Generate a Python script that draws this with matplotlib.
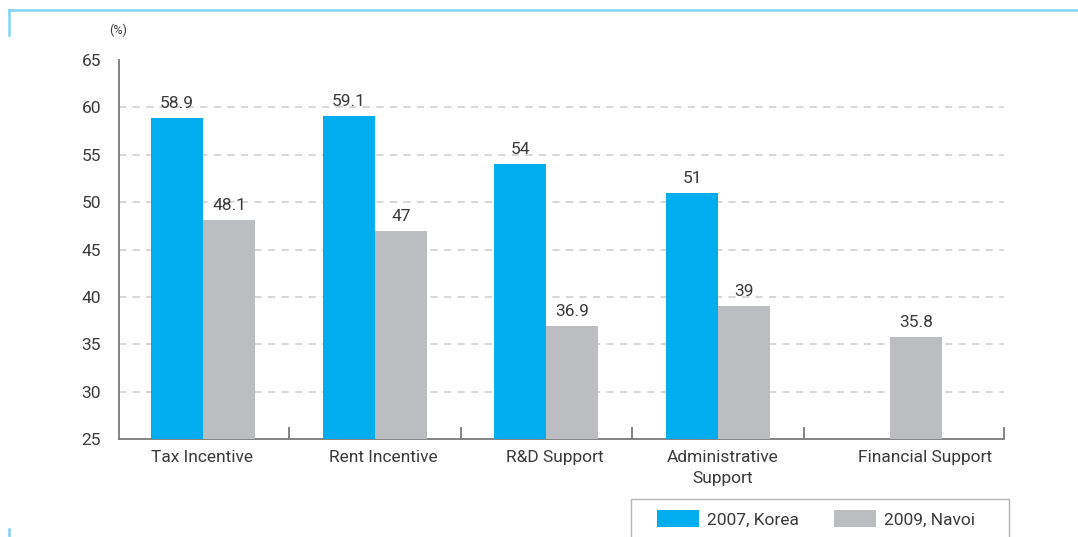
import matplotlib
matplotlib.use("Agg")
import matplotlib.pyplot as plt
from matplotlib.patches import Patch, Rectangle
from matplotlib.lines import Line2D
from matplotlib.transforms import ScaledTranslation
import numpy as np

categories = ["Tax Incentive", "Rent Incentive", "R&D Support",
              "Administrative\nSupport", "Financial Support"]
korea_2007 = [58.9, 59.1, 54, 51, None]
navoi_2009 = [48.1, 47, 36.9, 39, 35.8]
series_labels = ["2007, Korea", "2009, Navoi"]
y_ticks = [25, 30, 35, 40, 45, 50, 55, 60, 65]

BLUE = "#00AEEF"
GRAY = "#BCBDC0"
TEXT = "#3a3a3a"
AXIS = "#7a7a7a"
DECOR = "#7fd4f7"
FS = 12.5

plt.rcParams["font.family"] = ["Roboto", "DejaVu Sans"]

W, H = 1078, 537
fig = plt.figure(figsize=(W / 100, H / 100), dpi=100)
ax = fig.add_axes([119 / W, 1 - 439 / H, (1004 - 119) / W, (439 - 60) / H])

x = np.arange(len(categories))
bw = 0.303

for i, v in enumerate(korea_2007):
    if v is None:
        continue
    ax.bar(x[i] - bw / 2, v - 25, bottom=25, width=bw, color=BLUE, zorder=3)
    ax.annotate(f"{v:g}", (x[i] - bw / 2, v), xytext=(0, 5), textcoords="offset points",
                ha="center", va="bottom", fontsize=FS, color=TEXT)
for i, v in enumerate(navoi_2009):
    ax.bar(x[i] + bw / 2, v - 25, bottom=25, width=bw, color=GRAY, zorder=3)
    ax.annotate(f"{v:g}", (x[i] + bw / 2, v), xytext=(0, 5), textcoords="offset points",
                ha="center", va="bottom", fontsize=FS, color=TEXT)

ax.set_xlim(-0.49, 4.665)
ax.set_ylim(25, 65)

# y axis: labels only, with a short inward tick at the top value
ax.set_yticks(y_ticks)
ax.set_yticklabels([str(t) for t in y_ticks])
ax.set_yticks([65], minor=True)
ax.tick_params(axis="y", which="major", length=0, pad=13, labelsize=FS, labelcolor=TEXT)
ax.tick_params(axis="y", which="minor", direction="in", length=9, width=1.3, color=AXIS)

# x axis: labels at centres, inward ticks at category boundaries
ax.set_xticks(x)
ax.set_xticklabels(categories, linespacing=1.45)
ax.set_xticks([0.5, 1.5, 2.5, 3.5, 4.665], minor=True)
ax.tick_params(axis="x", which="major", length=0, pad=8, labelsize=FS, labelcolor=TEXT)
ax.tick_params(axis="x", which="minor", direction="in", length=9, width=1.3, color=AXIS)

# small horizontal nudges of the category labels (pixels)
label_shift = [-1, 9, 8, 5, 35]
for lbl, dx in zip(ax.get_xticklabels(), label_shift):
    lbl.set_transform(lbl.get_transform() + ScaledTranslation(dx / 100, 0, fig.dpi_scale_trans))

for t in y_ticks[1:-1]:
    ax.axhline(t, color="#d4d4d4", lw=1.3, ls=(0, (4, 3.5)), zorder=1)

for s in ["top", "right"]:
    ax.spines[s].set_visible(False)
for s in ["left", "bottom"]:
    ax.spines[s].set_color(AXIS)
    ax.spines[s].set_linewidth(1.3)

fig.text(118 / W, 1 - 30 / H, "(%)", ha="center", va="center", fontsize=9, color=TEXT)

# legend box
fig.patches.append(Rectangle((631 / W, -0.01), (1009 - 631) / W, 1 - 499 / H + 0.01,
                             transform=fig.transFigure, fill=False, ec="#b5b5b5", lw=1.0))
handles = [Patch(facecolor=BLUE, edgecolor="none"), Patch(facecolor=GRAY, edgecolor="none")]
fig.legend(handles, series_labels, loc="center left",
           bbox_to_anchor=(641 / W, 1 - 519 / H), ncol=2, frameon=False,
           fontsize=FS, handlelength=2.45, handleheight=1.1, handletextpad=0.45,
           columnspacing=2.0, labelcolor=TEXT)

# page frame accents
fig.add_artist(Line2D([9 / W, 1.0], [1 - 10 / H, 1 - 10 / H], transform=fig.transFigure,
                      color=DECOR, lw=1.8))
fig.add_artist(Line2D([9 / W, 9 / W], [1 - 10 / H, 1 - 35 / H], transform=fig.transFigure,
                      color=DECOR, lw=1.8))
fig.add_artist(Line2D([9 / W, 9 / W], [1 - 529 / H, 0.0], transform=fig.transFigure,
                      color=DECOR, lw=1.8))

fig.savefig("out.png", dpi=100)
